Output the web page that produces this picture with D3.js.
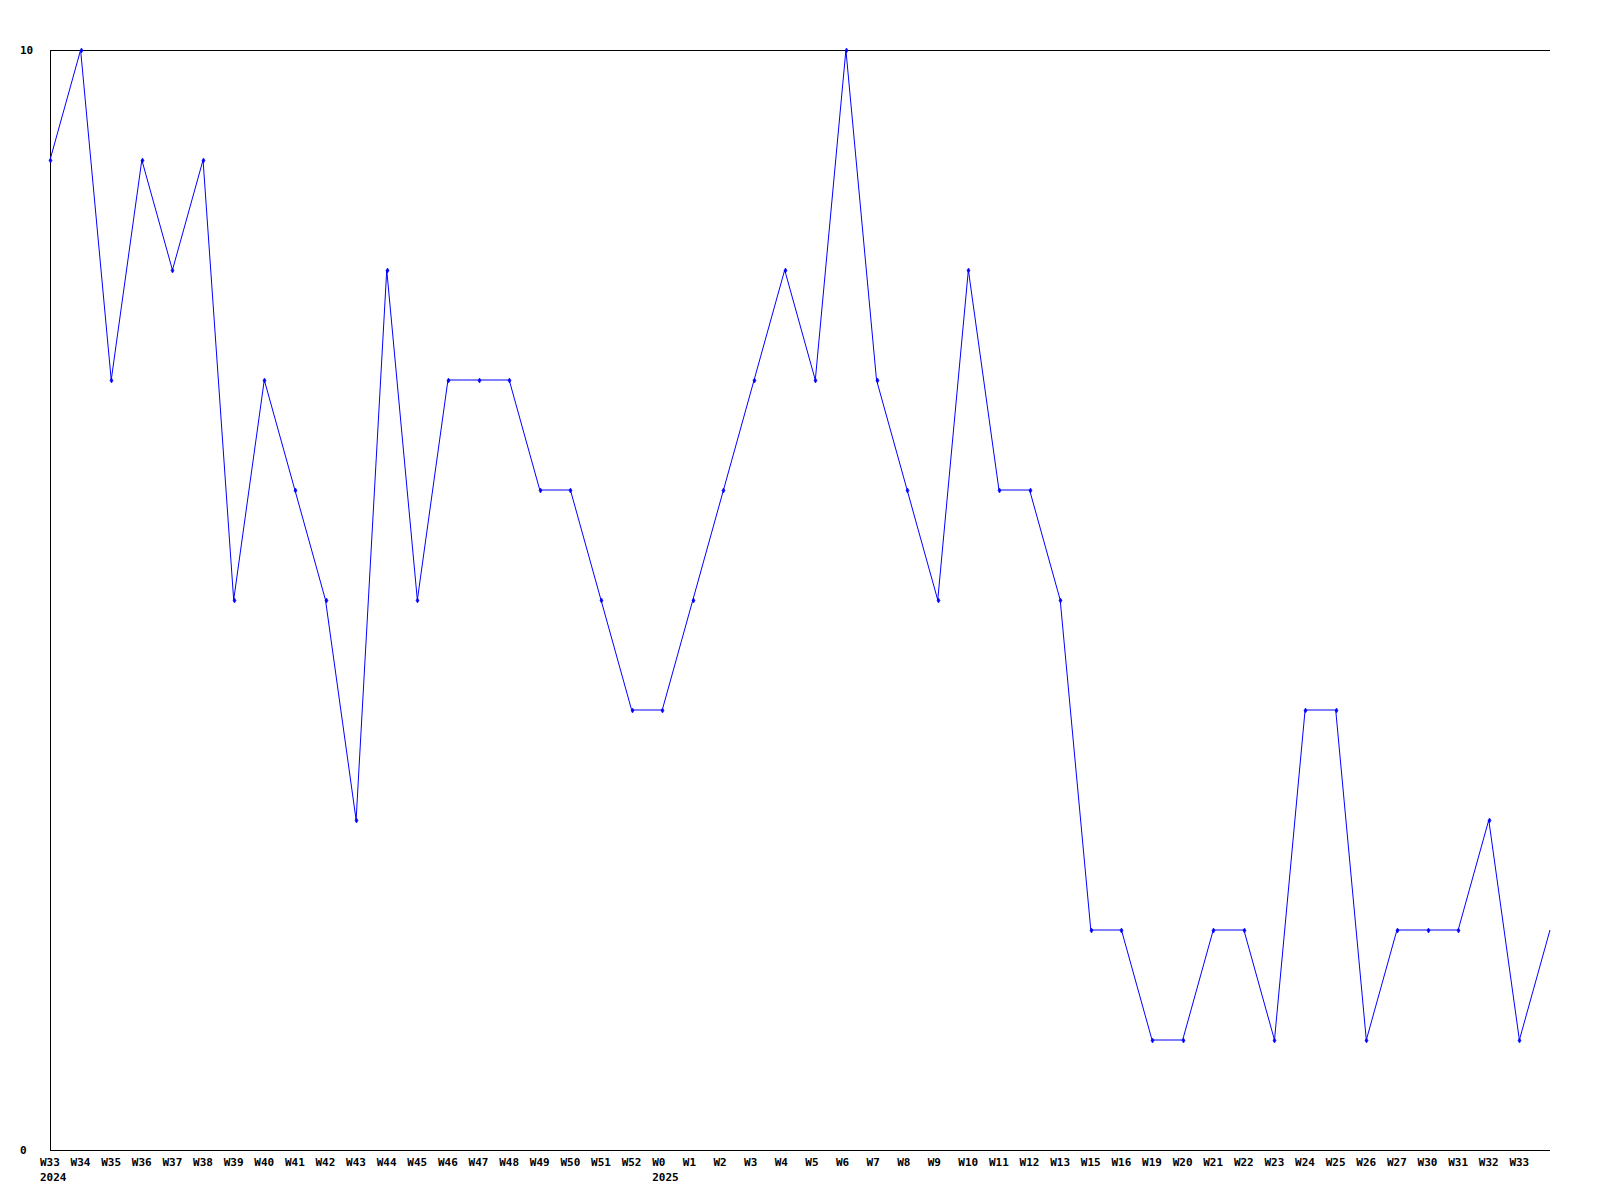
<!DOCTYPE html>
<html>
<head>
<meta charset="utf-8">
<script src="https://cdn.jsdelivr.net/npm/d3@7"></script>
<style>
html,body{margin:0;padding:0;background:#fff;}
svg{display:block;}
text{font-family:"DejaVu Sans Mono",monospace;font-weight:bold;font-size:11px;fill:#000;}
</style>
</head>
<body>
<svg id="chart" width="1600" height="1200"></svg>
<script>
const weeks = ["W33","W34","W35","W36","W37","W38","W39","W40","W41","W42","W43","W44","W45","W46","W47","W48","W49","W50","W51","W52",
  "W0","W1","W2","W3","W4","W5","W6","W7","W8","W9","W10","W11","W12","W13","W15","W16","W19","W20","W21","W22","W23","W24","W25","W26","W27","W30","W31","W32","W33",""];
const years = {0:"2024", 20:"2025"};
const values = [9,10,7,9,8,9,5,7,6,5,3,8,5,7,7,7,6,6,5,4,
  4,5,6,7,8,7,10,7,6,5,8,6,6,5,2,2,1,1,2,2,1,4,4,1,2,2,2,3,1,2];
const yTicks = [0,10];

const svg = d3.select("#chart");
const pL = 50, pR = 1550, pT = 50, pB = 1150;
const x = d3.scaleLinear().domain([0, weeks.length-1]).range([pL, pR]);
const y = d3.scaleLinear().domain([0,10]).range([pB, pT]);

// axes frame: left, top, bottom
const frame = svg.append("g").attr("shape-rendering","crispEdges").attr("stroke","#000").attr("stroke-width",1);
frame.append("line").attr("x1",pL+0.5).attr("x2",pL+0.5).attr("y1",pT).attr("y2",pB);
frame.append("line").attr("x1",pL).attr("x2",pR).attr("y1",pT+0.5).attr("y2",pT+0.5);
frame.append("line").attr("x1",pL).attr("x2",pR).attr("y1",pB+0.5).attr("y2",pB+0.5);

// y labels
svg.append("g").selectAll("text").data(yTicks).join("text")
  .attr("x",20).attr("y",d=>y(d)+4).text(d=>d);

// x labels
const xl = svg.append("g");
xl.selectAll("text.w").data(weeks).join("text").attr("class","w")
  .attr("x",(d,i)=>x(i)-10).attr("y",1166).text(d=>d);
xl.selectAll("text.yr").data(Object.entries(years)).join("text").attr("class","yr")
  .attr("x",d=>x(+d[0])-10).attr("y",1181).text(d=>d[1]);

// line
const line = d3.line().x((d,i)=>x(i)).y(d=>y(d));
svg.append("path").datum(values).attr("d",line)
  .attr("fill","none").attr("stroke","#0000ff").attr("stroke-width",1);

// markers (small diamonds)
svg.append("g").selectAll("path").data(values.slice(0,-1)).join("path")
  .attr("d",(d,i)=>{const cx=Math.round(x(i))+0.5, cy=Math.round(y(d))+0.5; return `M${cx},${cy-2.5}L${cx+1.5},${cy}L${cx},${cy+2.5}L${cx-1.5},${cy}Z`;})
  .attr("fill","#0000ff").attr("stroke","#0000ff").attr("stroke-width",0.6);
</script>
</body>
</html>
